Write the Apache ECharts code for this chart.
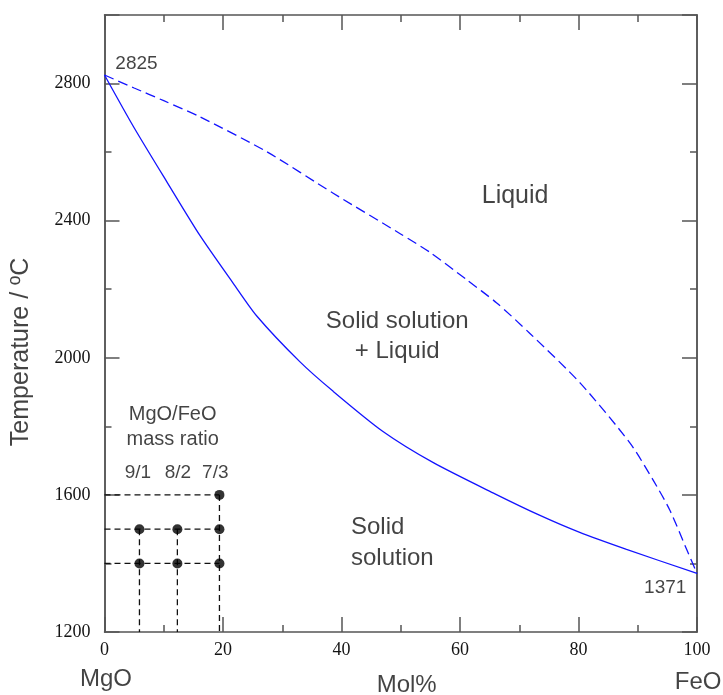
<!DOCTYPE html>
<html>
<head>
<meta charset="utf-8">
<script src="https://cdn.jsdelivr.net/npm/echarts@6/dist/echarts.min.js"></script>
<style>
  html, body { margin: 0; padding: 0; background: #fff; }
  #chart { width: 723px; height: 695px; }
</style>
</head>
<body>
<div id="chart"></div>
<script>
// MgO–FeO binary phase diagram (mol% FeO vs temperature)

// Solidus (solid line) and liquidus (dashed line)
const solidusFeO = [0, 4.9, 10.5, 16.1, 21.7, 25.7, 33.0, 38.6, 47.0, 55.5, 65.9, 73.5, 80, 88.1, 100];
const solidusT   = [2825, 2674, 2514, 2357, 2218, 2122, 1988, 1902, 1785, 1694, 1603, 1540, 1492, 1441, 1371];
const liquidusFeO = [0, 5, 10, 16.1, 27.4, 38.6, 49.9, 54.9, 61.1, 66.2, 71.8, 80.3, 88.7, 92.6, 95.4, 98.3, 100];
const liquidusT   = [2825, 2787, 2750, 2703, 2601, 2480, 2362, 2308, 2228, 2160, 2071, 1926, 1751, 1643, 1556, 1439, 1371];

// Experimental runs: MgO/FeO mass ratios 9/1, 8/2, 7/3 (as mol% FeO)
const ratioLabels = ['9/1', '8/2', '7/3'];
const ratioFeO = [5.9, 12.3, 19.4];
const runFeO = [19.4, 5.9, 12.3, 19.4, 5.9, 12.3, 19.4];
const runT   = [1600, 1500, 1500, 1500, 1400, 1400, 1400];

// Axis ranges and ticks
const xMin = 0, xMax = 100, xStep = 20;
const yMin = 1200, yMax = 3000, yStep = 400;

const BLUE = '#1414ff';
const AXIS = '#555555';
const INK = '#141414';
const SANS = '"Liberation Sans", Arial, sans-serif';
const SERIF = '"Liberation Serif", "Times New Roman", serif';

const zip = (a, b) => a.map((v, i) => [v, b[i]]);

// Guide lines from each run point back to the axes
const guideSeries = [];
[...new Set(runT)].forEach(t => {
  const xs = runFeO.filter((_, i) => runT[i] === t);
  guideSeries.push([[xMin, t], [Math.max(...xs), t]]);
});
[...new Set(runFeO)].forEach(f => {
  const ts = runT.filter((_, i) => runFeO[i] === f);
  guideSeries.push([[f, Math.max(...ts)], [f, yMin]]);
});

// Text annotations placed in data coordinates
const notes = [
  { text: '2825', at: [5.4, 2858], size: 19 },
  { text: 'Liquid', at: [69.3, 2471], size: 25 },
  { text: 'Solid solution\n+ Liquid', at: [49.4, 2063], size: 24, lh: 30 },
  { text: 'Solid\nsolution', at: [41.6, 1461], size: 24, lh: 31, align: 'left' },
  { text: '1371', at: [98.2, 1330], size: 19, align: 'right' },
  { text: 'MgO/FeO\nmass ratio', at: [11.5, 1798], size: 20, lh: 25 },
  { text: ratioLabels[0], at: [ratioFeO[0] - 0.25, 1664], size: 19 },
  { text: ratioLabels[1], at: [ratioFeO[1] + 0.1, 1664], size: 19 },
  { text: ratioLabels[2], at: [ratioFeO[2] - 0.7, 1664], size: 19 },
  { text: 'MgO', at: [0.25, 1063], size: 24 },
  { text: 'FeO', at: [100.2, 1053], size: 24 },
  { text: 'Mol%', at: [51.0, 1045], size: 24 },
  { text: 'Temperature / ºC', at: [-14.1, 2017], size: 25, rotate: 90 }
];

function frameAxis(extra) {
  return Object.assign({
    type: 'value',
    axisLine: { show: true, lineStyle: { color: AXIS, width: 1.5 } },
    axisTick: { show: true, inside: true, length: 15, lineStyle: { color: AXIS, width: 1.5 } },
    splitLine: { show: false },
    minorSplitLine: { show: false },
    axisLabel: { show: false }
  }, extra);
}

const yLabel = {
  show: true, fontFamily: SERIF, fontSize: 18, color: INK, margin: 14,
  padding: [8, 0, 0, 0],
  formatter: v => (v % yStep === 0 ? String(v) : '')
};

const option = {
  animation: false,
  backgroundColor: '#fff',
  grid: { left: 104.5, right: 26, top: 15, bottom: 63, containLabel: false },
  xAxis: [
    frameAxis({
      position: 'bottom', min: xMin, max: xMax, interval: xStep,
      minorTick: { show: true, splitNumber: 2, length: 7, lineStyle: { color: AXIS, width: 1.5 } },
      axisLabel: { show: true, fontFamily: SERIF, fontSize: 18, color: INK, margin: 9 }
    }),
    frameAxis({
      position: 'top', min: xMin, max: xMax, interval: xStep,
      minorTick: { show: true, splitNumber: 2, length: 7, lineStyle: { color: AXIS, width: 1.5 } }
    })
  ],
  yAxis: [
    frameAxis({ position: 'left', min: yMin, max: yMax, interval: yStep, axisLabel: yLabel }),
    frameAxis({ position: 'left', min: yMin, max: yMax, interval: yStep / 2,
      axisTick: { show: true, inside: true, length: 7, lineStyle: { color: AXIS, width: 1.5 } } }),
    frameAxis({ position: 'right', min: yMin, max: yMax, interval: yStep }),
    frameAxis({ position: 'right', min: yMin, max: yMax, interval: yStep / 2,
      axisTick: { show: true, inside: true, length: 7, lineStyle: { color: AXIS, width: 1.5 } } })
  ],
  series: [
    {
      name: 'solidus', type: 'line', data: zip(solidusFeO, solidusT),
      showSymbol: false, smooth: 0.25,
      lineStyle: { color: BLUE, width: 1.3 }, z: 3
    },
    {
      name: 'liquidus', type: 'line', data: zip(liquidusFeO, liquidusT),
      showSymbol: false, smooth: 0.25,
      lineStyle: { color: BLUE, width: 1.3, type: [10, 5] }, z: 3
    },
    ...guideSeries.map(seg => ({
      type: 'line', data: seg, showSymbol: false, silent: true,
      lineStyle: { color: '#111', width: 1.3, type: [6, 4] }, z: 2
    })),
    {
      name: 'runs', type: 'scatter', data: zip(runFeO, runT),
      symbol: 'circle', symbolSize: 10, itemStyle: { color: '#000' }, z: 4
    },
    {
      name: 'notes', type: 'scatter', symbolSize: 0, clip: false, silent: true, z: 5,
      data: notes.map(n => ({
        value: n.at,
        label: {
          show: true, position: 'inside', formatter: n.text,
          fontFamily: SANS, fontSize: n.size, color: INK,
          lineHeight: n.lh || n.size * 1.2,
          align: n.align || 'center', verticalAlign: 'middle',
          rotate: n.rotate || 0
        }
      }))
    }
  ]
};

const chart = echarts.init(document.getElementById('chart'), null, { renderer: 'canvas' });
chart.setOption(option);
</script>
</body>
</html>
